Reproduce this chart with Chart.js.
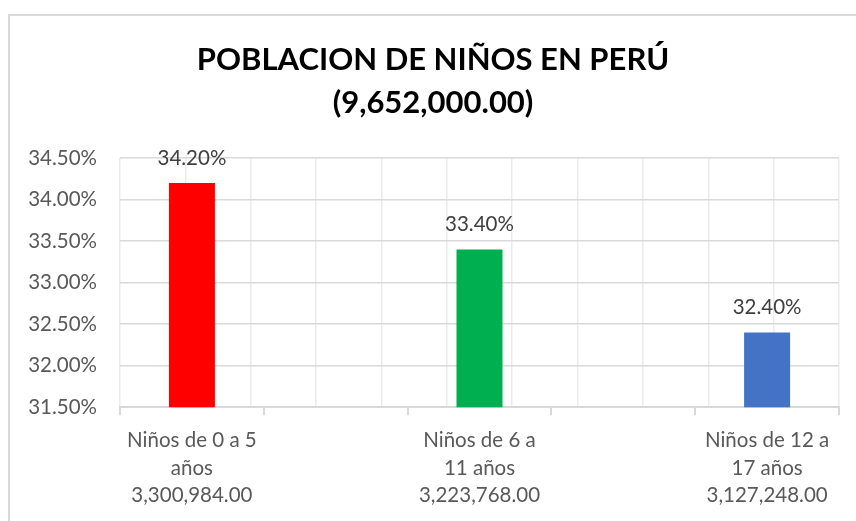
<!DOCTYPE html>
<html>
<head>
<meta charset="utf-8">
<script src="https://cdn.jsdelivr.net/npm/chart.js@4"></script>
<style>
  html, body { margin:0; padding:0; background:#fff; overflow:hidden; }
  #frame { position:absolute; left:8px; top:14px; width:900px; height:600px; border:2px solid #d9d9d9; box-sizing:border-box; }
  #wrap { position:absolute; left:0; top:0; width:856px; height:521px; }
</style>
</head>
<body>
<div id="frame"></div>
<div id="wrap"><canvas id="c" width="856" height="521"></canvas></div>
<script>
const titleLines = ['POBLACION DE NIÑOS EN PERÚ', '(9,652,000.00)'];
const categories = [
  ['Niños de 0 a 5', 'años', '3,300,984.00'],
  '',
  ['Niños de 6 a', '11 años', '3,223,768.00'],
  '',
  ['Niños de 12 a', '17 años', '3,127,248.00']
];
const shares = [34.2, null, 33.4, null, 32.4];
const barColors = ['#FF0000', '#FF0000', '#00B050', '#00B050', '#4472C4'];
const yMin = 31.5, yMax = 34.5, yStep = 0.5;

const FONT = 'Lato';

const valueLabels = {
  id: 'valueLabels',
  afterDatasetsDraw(chart) {
    const ctx = chart.ctx;
    const meta = chart.getDatasetMeta(0);
    ctx.save();
    ctx.font = '20.5px ' + FONT;
    ctx.fillStyle = '#404040';
    ctx.textAlign = 'center';
    ctx.textBaseline = 'alphabetic';
    meta.data.forEach((bar, i) => {
      const v = shares[i];
      if (v == null) return;
      ctx.fillText(v.toFixed(2) + '%', bar.x, bar.y - 18);
    });
    ctx.restore();
  }
};

new Chart(document.getElementById('c'), {
  type: 'bar',
  data: {
    labels: categories,
    datasets: [{
      data: shares,
      backgroundColor: barColors,
      barPercentage: 0.32,
      categoryPercentage: 1.0,
      borderWidth: 0
    }]
  },
  options: {
    responsive: false,
    animation: false,
    devicePixelRatio: 1,
    layout: { padding: { left: 27, right: 17, top: 38, bottom: 0 } },
    plugins: {
      legend: { display: false },
      tooltip: { enabled: false },
      title: {
        display: true,
        text: titleLines,
        color: '#000000',
        font: { family: FONT, size: 31, weight: 'bold', lineHeight: 1.39 },
        padding: { top: 0, bottom: 34 }
      }
    },
    scales: {
      x: {
        type: 'category',
        offset: true,
        grid: { display: true, drawOnChartArea: false, drawTicks: true, tickLength: 8, color: '#d9d9d9', lineWidth: 2, offset: true },
        border: { display: true, color: '#d9d9d9', width: 2 },
        ticks: {
          autoSkip: false, maxRotation: 0, minRotation: 0,
          color: '#595959', padding: 12,
          font: { family: FONT, size: 20.5, lineHeight: 1.33 }
        }
      },
      xg: {
        type: 'linear',
        position: 'top',
        min: 0, max: 10,
        ticks: { display: false, stepSize: 1 },
        grid: { display: true, drawTicks: false, color: '#ebebeb', lineWidth: 1.5 },
        border: { display: false }
      },
      y: {
        min: yMin, max: yMax,
        afterFit: s => { s.width = 93; },
        ticks: {
          stepSize: yStep,
          color: '#595959',
          padding: 23,
          font: { family: FONT, size: 20.5 },
          callback: v => v.toFixed(2) + '%'
        },
        grid: { color: '#d9d9d9', lineWidth: 1.5, drawTicks: false },
        border: { display: false }
      }
    }
  },
  plugins: [valueLabels]
});
</script>
</body>
</html>
